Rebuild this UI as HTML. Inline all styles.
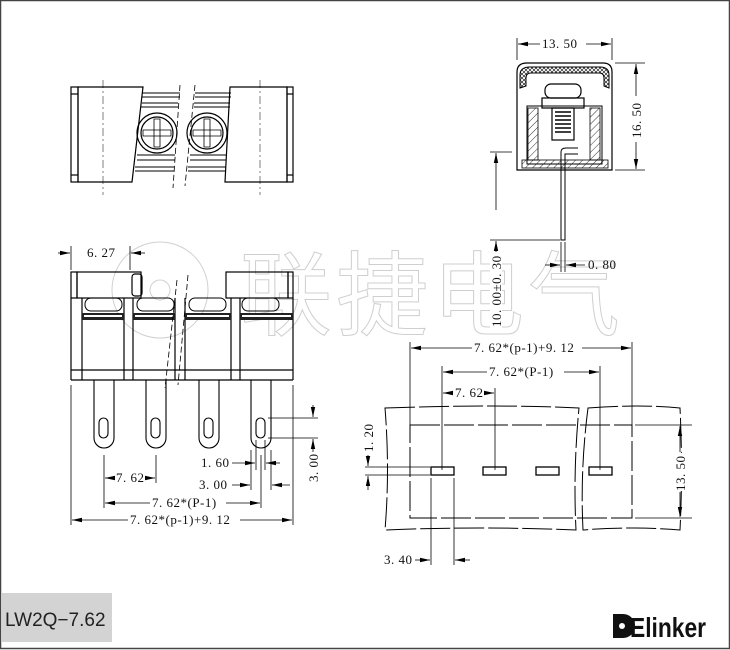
<!DOCTYPE html>
<html><head><meta charset="utf-8"><style>
html,body{margin:0;padding:0;background:#fff;}
svg{display:block;}
text{font-family:"Liberation Serif","Noto Serif CJK SC",serif;font-size:13px;fill:#111;letter-spacing:0.5px;}
</style></head><body>
<svg width="730" height="650" viewBox="0 0 730 650" xmlns="http://www.w3.org/2000/svg">
<defs>
<marker id="a" markerWidth="10" markerHeight="6" refX="10" refY="3" orient="auto" markerUnits="userSpaceOnUse"><path d="M0,0.8 L10,3 L0,5.2z" fill="#000"/></marker>
<pattern id="h" width="5" height="5" patternUnits="userSpaceOnUse" patternTransform="rotate(45)"><line x1="0" y1="0" x2="0" y2="5" stroke="#000" stroke-width="0.8"/></pattern>
<pattern id="x" width="4" height="4" patternUnits="userSpaceOnUse"><path d="M0,0L4,4M4,0L0,4" stroke="#000" stroke-width="0.6"/></pattern>
</defs>
<rect x="0.5" y="0.5" width="729" height="648" fill="#fff" stroke="#444" stroke-width="1.5"/>

<g fill="none" stroke="#d0d0d0" stroke-width="1">
<circle cx="160" cy="290" r="48"/>
<circle cx="160" cy="290" r="10"/>
<text x="240" y="328" style="font-family:'Noto Sans CJK SC',sans-serif;font-size:92px;fill:none;stroke:#cfcfcf;stroke-width:1;letter-spacing:4px">联捷电气</text>
</g>

<g stroke="#000" fill="none" stroke-width="1.2">
<!-- TOP VIEW -->
<rect x="71" y="87" width="7" height="95"/>
<line x1="71" y1="94" x2="78" y2="94"/><line x1="71" y1="175" x2="78" y2="175"/>
<path d="M78,87 H143 L132,182 H78Z"/>
<rect x="287" y="87" width="6" height="95"/>
<line x1="287" y1="94" x2="293" y2="94"/><line x1="287" y1="175" x2="293" y2="175"/>
<path d="M230,87 H287 V182 H225Z"/>
<g stroke-width="1">
<path d="M142,93 H180 M142,97 H180 M142,103 H178 M141,107 H178"/>
<path d="M195,93 H231 M195,97 H231 M194,103 H230 M194,107 H230"/>
<path d="M137,155 H175 M137,160 H175 M135,167 H174 M135,171 H174"/>
<path d="M190,155 H226 M190,160 H226 M188,167 H226 M188,171 H226"/>
</g>
<circle cx="157" cy="133" r="20"/><circle cx="157" cy="133" r="16"/>
<circle cx="207" cy="133" r="20"/><circle cx="207" cy="133" r="16"/>
<path d="M143,130h28v6h-28z M154,119h6v28h-6z" stroke-width="0.8"/>
<path d="M193,130h28v6h-28z M204,119h6v28h-6z" stroke-width="0.8"/>
<line x1="180" y1="85" x2="173" y2="188" stroke-width="0.8" stroke-dasharray="6,3"/>
<line x1="195" y1="85" x2="185" y2="186" stroke-width="0.8" stroke-dasharray="6,3"/>
<line x1="103" y1="80" x2="103" y2="195" stroke-width="0.5" stroke-dasharray="8,3,2,3"/>
<line x1="260" y1="80" x2="260" y2="195" stroke-width="0.5" stroke-dasharray="8,3,2,3"/>

<!-- SIDE VIEW -->
<path d="M517,170 V72 Q517,63 527,63 H603 Q612,63 612,72 V170 Z"/>
<path d="M520,88 V75 Q520,67 530,67 H600 Q609,67 609,75 V88 L604,86 V78 Q604,73 599,73 H531 Q526,73 526,78 V86Z" fill="url(#x)" stroke-width="1"/>
<rect x="527" y="106" width="75" height="58" stroke-width="1"/>
<rect x="528" y="108" width="10" height="52" fill="url(#h)" stroke-width="0.8"/>
<rect x="590" y="108" width="10" height="52" fill="url(#h)" stroke-width="0.8"/>
<rect x="522" y="160" width="86" height="8" fill="url(#h)" stroke-width="0.8"/>
<rect x="545" y="84" width="36" height="14" rx="6"/>
<rect x="542" y="98" width="42" height="10"/>
<rect x="552" y="108" width="22" height="32"/>
<path d="M555,112h16M555,116h16M555,120h16M555,124h16M555,128h16M555,132h16" stroke-width="1.5"/>
<path d="M561,168 V152 Q561,148 566,148 H578 M565,168 V154 H578" stroke-width="1"/>
<rect x="561" y="168" width="4" height="72" stroke-width="1"/>

<!-- FRONT VIEW -->
<rect x="71" y="272" width="6" height="26"/>
<rect x="77" y="272" width="64" height="26"/>
<rect x="132" y="274" width="10" height="22" rx="3"/>
<rect x="226" y="272" width="62" height="26"/>
<rect x="288" y="272" width="5" height="26"/>
<line x1="71" y1="298" x2="71" y2="380"/><line x1="293" y1="298" x2="293" y2="380"/>
<line x1="82" y1="298" x2="82" y2="380"/>
<line x1="124" y1="298" x2="124" y2="380"/><line x1="133" y1="298" x2="133" y2="380"/>
<line x1="231" y1="298" x2="231" y2="380"/><line x1="240" y1="298" x2="240" y2="380"/>
<line x1="175" y1="298" x2="175" y2="380"/><line x1="185" y1="298" x2="185" y2="380"/>
<line x1="71" y1="370" x2="293" y2="370"/><line x1="71" y1="380" x2="293" y2="380"/>
<g stroke-width="1">
<rect x="85" y="298" width="37" height="13" rx="6"/><rect x="137" y="298" width="37" height="13" rx="6"/>
<rect x="189" y="298" width="37" height="13" rx="6"/><rect x="242" y="298" width="37" height="13" rx="6"/>
</g>
<g fill="#222" stroke="none">
<rect x="82" y="313" width="42" height="7"/><rect x="133" y="313" width="42" height="7"/>
<rect x="185" y="313" width="46" height="7"/><rect x="240" y="313" width="53" height="7"/>
</g>
<g fill="#fff" stroke="none">
<rect x="84" y="315" width="38" height="2"/><rect x="135" y="315" width="38" height="2"/>
<rect x="187" y="315" width="42" height="2"/><rect x="242" y="315" width="49" height="2"/>
</g>
<line x1="177" y1="280" x2="165" y2="388" stroke-width="0.8" stroke-dasharray="6,3"/>
<line x1="188" y1="275" x2="178" y2="385" stroke-width="0.8" stroke-dasharray="6,3"/>
<g stroke-width="1.1">
<path d="M94,380 V438 A10,10 0 0 0 114,438 V380"/>
<path d="M146,380 V438 A10,10 0 0 0 166,438 V380"/>
<path d="M199,380 V438 A10,10 0 0 0 219,438 V380"/>
<path d="M251,380 V438 A10,10 0 0 0 271,438 V380"/>
<rect x="99" y="418" width="9" height="20" rx="4.5"/>
<rect x="151" y="418" width="9" height="20" rx="4.5"/>
<rect x="204" y="418" width="9" height="20" rx="4.5"/>
<rect x="256" y="418" width="9" height="20" rx="4.5"/>
</g>

<!-- FOOTPRINT -->
<path d="M385,408 Q500,404 579,408 Q573,470 576,530 Q480,526 385,530 Q390,470 385,408Z" stroke-width="1" stroke-dasharray="30,4"/>
<path d="M588,408 Q640,404 680,408 Q683,470 680,530 Q630,526 583,530 Q580,470 588,408Z" stroke-width="1" stroke-dasharray="30,4"/>
<rect x="410" y="425" width="222" height="93" stroke-width="1" stroke-dasharray="30,4"/>
<rect x="431" y="467" width="23" height="8" stroke-width="1.3"/>
<rect x="483" y="467" width="23" height="8" stroke-width="1.3"/>
<rect x="536" y="467" width="23" height="8" stroke-width="1.3"/>
<rect x="589" y="467" width="23" height="8" stroke-width="1.3"/>
</g>

<!-- DIMENSIONS -->
<g stroke="#000" stroke-width="0.8" fill="none">
<line x1="517" y1="38" x2="517" y2="60"/><line x1="612" y1="38" x2="612" y2="60"/>
<line x1="540" y1="44" x2="518" y2="44" marker-end="url(#a)"/><line x1="586" y1="44" x2="611" y2="44" marker-end="url(#a)"/>
<line x1="615" y1="63" x2="645" y2="63"/><line x1="615" y1="170" x2="645" y2="170"/>
<line x1="636" y1="96" x2="636" y2="64" marker-end="url(#a)"/><line x1="636" y1="142" x2="636" y2="169" marker-end="url(#a)"/>
<line x1="490" y1="240" x2="560" y2="240"/><line x1="490" y1="152" x2="512" y2="152"/>
<line x1="496" y1="252" x2="496" y2="241" marker-end="url(#a)"/>
<line x1="496" y1="210" x2="496" y2="153" marker-end="url(#a)"/>
<line x1="561" y1="242" x2="561" y2="272"/><line x1="565" y1="242" x2="565" y2="272"/>
<line x1="545" y1="265" x2="560" y2="265" marker-end="url(#a)"/><line x1="585" y1="265" x2="566" y2="265" marker-end="url(#a)"/>
<line x1="71" y1="246" x2="71" y2="270"/><line x1="130" y1="246" x2="130" y2="270"/>
<line x1="58" y1="253" x2="70" y2="253" marker-end="url(#a)"/><line x1="145" y1="253" x2="131" y2="253" marker-end="url(#a)"/>
<line x1="71" y1="385" x2="71" y2="525"/><line x1="293" y1="385" x2="293" y2="525"/>
<line x1="104" y1="455" x2="104" y2="508"/><line x1="156" y1="455" x2="156" y2="483"/><line x1="261" y1="455" x2="261" y2="508"/>
<line x1="115" y1="478" x2="105" y2="478" marker-end="url(#a)"/><line x1="151" y1="478" x2="155" y2="478" marker-end="url(#a)"/>
<line x1="150" y1="503" x2="105" y2="503" marker-end="url(#a)"/><line x1="226" y1="503" x2="260" y2="503" marker-end="url(#a)"/>
<line x1="128" y1="520" x2="72" y2="520" marker-end="url(#a)"/><line x1="240" y1="520" x2="292" y2="520" marker-end="url(#a)"/>
<line x1="251" y1="450" x2="251" y2="490"/><line x1="271" y1="450" x2="271" y2="490"/>
<line x1="256" y1="440" x2="256" y2="470"/><line x1="265" y1="440" x2="265" y2="470"/>
<line x1="232" y1="463" x2="255" y2="463" marker-end="url(#a)"/><line x1="280" y1="463" x2="266" y2="463" marker-end="url(#a)"/>
<line x1="232" y1="485" x2="250" y2="485" marker-end="url(#a)"/><line x1="290" y1="485" x2="272" y2="485" marker-end="url(#a)"/>
<line x1="268" y1="418" x2="318" y2="418"/><line x1="268" y1="438" x2="318" y2="438"/>
<line x1="313" y1="405" x2="313" y2="417" marker-end="url(#a)"/><line x1="313" y1="452" x2="313" y2="439" marker-end="url(#a)"/>
<line x1="410" y1="342" x2="410" y2="425"/><line x1="632" y1="342" x2="632" y2="425"/>
<line x1="472" y1="348" x2="411" y2="348" marker-end="url(#a)"/><line x1="582" y1="348" x2="631" y2="348" marker-end="url(#a)"/>
<line x1="442" y1="366" x2="442" y2="470"/><line x1="600" y1="366" x2="600" y2="470"/><line x1="495" y1="388" x2="495" y2="470"/>
<line x1="487" y1="372" x2="443" y2="372" marker-end="url(#a)"/><line x1="564" y1="372" x2="599" y2="372" marker-end="url(#a)"/>
<line x1="453" y1="393" x2="443" y2="393" marker-end="url(#a)"/><line x1="489" y1="393" x2="494" y2="393" marker-end="url(#a)"/>
<line x1="635" y1="425" x2="692" y2="425"/><line x1="635" y1="518" x2="692" y2="518"/>
<line x1="680" y1="452" x2="680" y2="426" marker-end="url(#a)"/><line x1="680" y1="492" x2="680" y2="517" marker-end="url(#a)"/>
<line x1="365" y1="467" x2="430" y2="467"/><line x1="365" y1="475" x2="430" y2="475"/>
<line x1="368" y1="455" x2="368" y2="466" marker-end="url(#a)"/><line x1="368" y1="490" x2="368" y2="476" marker-end="url(#a)"/>
<line x1="431" y1="478" x2="431" y2="565"/><line x1="454" y1="478" x2="454" y2="565"/>
<line x1="415" y1="560" x2="430" y2="560" marker-end="url(#a)"/><line x1="470" y1="560" x2="455" y2="560" marker-end="url(#a)"/>
</g>
<g fill="#fff" stroke="none">
<rect x="630" y="98" width="12" height="42"/>
<rect x="674" y="453" width="12" height="38"/>
<rect x="490" y="254" width="12" height="74"/>
</g>
<g>
<text x="542" y="48">13. 50</text>
<text x="0" y="0" transform="translate(641,138) rotate(-90)">16. 50</text>
<text x="0" y="0" transform="translate(501,327) rotate(-90)">10. 00±0. 30</text>
<text x="588" y="269">0. 80</text>
<text x="87" y="257">6. 27</text>
<text x="116" y="482">7. 62</text>
<text x="201" y="467">1. 60</text>
<text x="199" y="489">3. 00</text>
<text x="0" y="0" transform="translate(318,482) rotate(-90)">3. 00</text>
<text x="152" y="507">7. 62*(P-1)</text>
<text x="130" y="524">7. 62*(p-1)+9. 12</text>
<text x="474" y="352">7. 62*(p-1)+9. 12</text>
<text x="489" y="376">7. 62*(P-1)</text>
<text x="455" y="397">7. 62</text>
<text x="0" y="0" transform="translate(685,491) rotate(-90)">13. 50</text>
<text x="0" y="0" transform="translate(373,452) rotate(-90)">1. 20</text>
<text x="384" y="564">3. 40</text>
</g>

<rect x="2" y="593" width="110" height="49" fill="#d3d3d3"/>
<text x="5" y="626" style="font-family:'Liberation Sans',sans-serif;font-size:19px;fill:#222;letter-spacing:0">LW2Q−7.62</text>
<path d="M613,614 h10 a12,12 0 0 1 0,24 h-10z" fill="#111"/>
<circle cx="622" cy="626" r="3" fill="#fff"/>
<text x="0" y="0" transform="translate(630,637) scale(0.95,1.15)" style="font-family:'Liberation Sans',sans-serif;font-size:24px;font-weight:bold;fill:#111;letter-spacing:0">Elinker</text>
</svg>
</body></html>
